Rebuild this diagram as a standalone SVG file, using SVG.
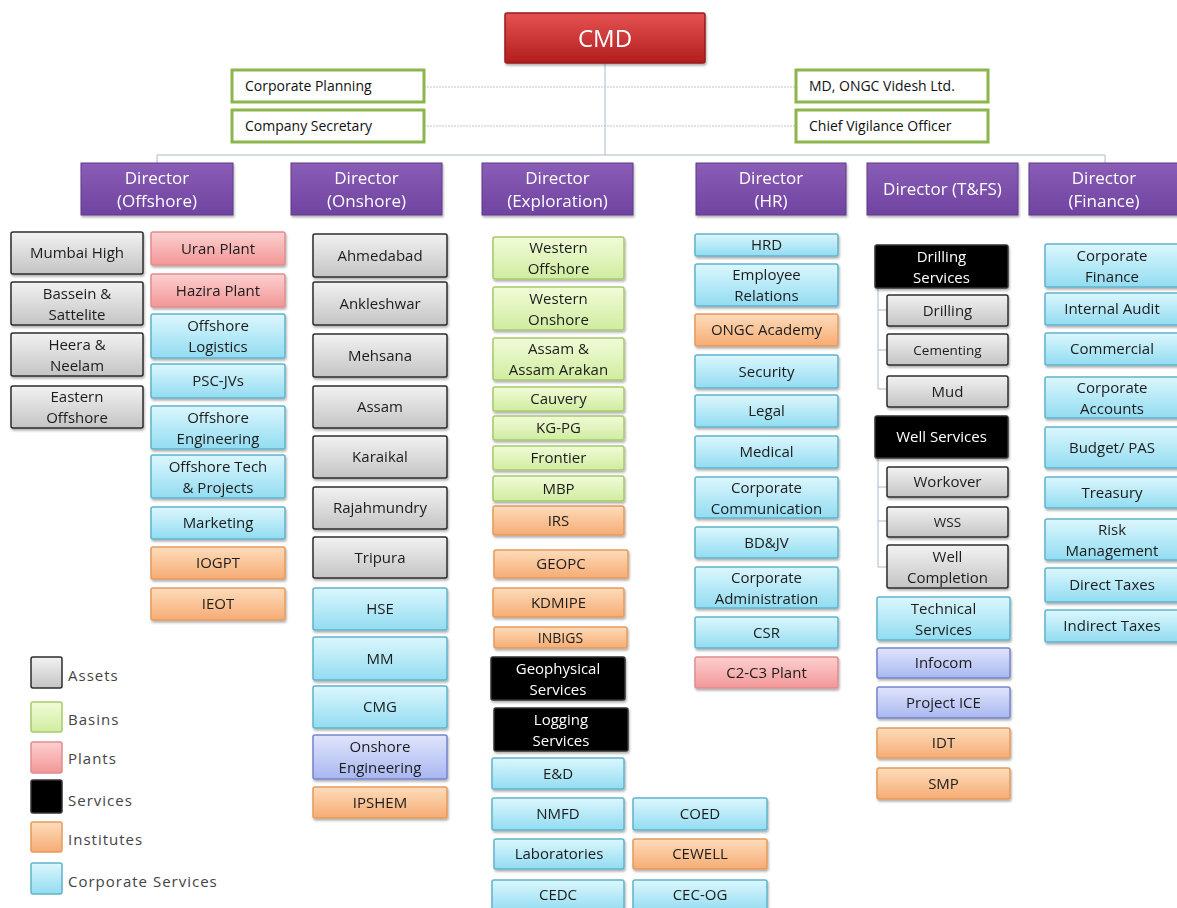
<svg xmlns="http://www.w3.org/2000/svg" width="1177" height="908" viewBox="0 0 1177 908">
<defs>
<linearGradient id="gRed" x1="0" y1="0" x2="0" y2="1"><stop offset="0" stop-color="#e55252"/><stop offset="1" stop-color="#b31d1d"/></linearGradient>
<linearGradient id="gDir" x1="0" y1="0" x2="0" y2="1"><stop offset="0" stop-color="#8a5db6"/><stop offset="1" stop-color="#6f43a0"/></linearGradient>
<linearGradient id="gAsset" x1="0" y1="0" x2="0" y2="1"><stop offset="0" stop-color="#f2f2f2"/><stop offset="1" stop-color="#c4c4c4"/></linearGradient>
<linearGradient id="gPlant" x1="0" y1="0" x2="0" y2="1"><stop offset="0" stop-color="#fdd0d0"/><stop offset="1" stop-color="#f29697"/></linearGradient>
<linearGradient id="gCorp" x1="0" y1="0" x2="0" y2="1"><stop offset="0" stop-color="#dcf7fd"/><stop offset="1" stop-color="#92dcf1"/></linearGradient>
<linearGradient id="gInst" x1="0" y1="0" x2="0" y2="1"><stop offset="0" stop-color="#fddcbb"/><stop offset="1" stop-color="#f6ac74"/></linearGradient>
<linearGradient id="gBasin" x1="0" y1="0" x2="0" y2="1"><stop offset="0" stop-color="#f1fcd8"/><stop offset="1" stop-color="#d0eca0"/></linearGradient>
<linearGradient id="gLav" x1="0" y1="0" x2="0" y2="1"><stop offset="0" stop-color="#e0e5fc"/><stop offset="1" stop-color="#a9b7f0"/></linearGradient>
<filter id="sh" x="-5%" y="-10%" width="115%" height="140%"><feDropShadow dx="1" dy="2" stdDeviation="1" flood-color="#000" flood-opacity="0.3"/></filter>
</defs>
<style>
.node{filter:url(#sh)}
rect{stroke-width:1.5}
.cmd{fill:url(#gRed);stroke:#9a1a1a}
.dir{fill:url(#gDir);stroke:#5e3a8c;stroke-width:1}
.top{fill:#fff;stroke:#8cb54a;stroke-width:3}
.asset{fill:url(#gAsset);stroke:#2c2c2c}
.plant{fill:url(#gPlant);stroke:#e08d8e}
.corp{fill:url(#gCorp);stroke:#5fb4cc}
.inst{fill:url(#gInst);stroke:#e59a5c}
.basin{fill:url(#gBasin);stroke:#a6c96c}
.lav{fill:url(#gLav);stroke:#7484cc}
.svc{fill:#000;stroke:#333}
text{font-family:"Open Sans","Liberation Sans",sans-serif}
.t{font-size:15px;fill:#1c1c1c;text-anchor:middle}
.w{font-size:15px;fill:#fff;text-anchor:middle}
.d{font-size:17px;fill:#fff;text-anchor:middle}
.l{font-size:14px;fill:#111;text-anchor:start}
.lg{font-size:15px;fill:#444;letter-spacing:1px}
.c{fill:none;stroke:#a9bccb;stroke-width:1}
.cd{fill:none;stroke:#b8c6d2;stroke-width:1;stroke-dasharray:2 1}
</style>

<g id="connectors">
<path class="c" d="M605 63V155M157 155H1105M157 155V163M1105 155V163"/>
<path class="cd" d="M424 87H796M424 126H796"/>
<path class="c" d="M878 288V389M878 310H887M878 350H887M878 389H887"/>
<path class="c" d="M878 458V567M878 487H887M878 521H887M878 567H887"/>
</g>

<g id="cmd" class="node"><rect class="cmd" x="505" y="13" width="200" height="50" rx="2"/><text x="605" y="47" style="font-size:24px;fill:#fff;text-anchor:middle">CMD</text></g>
<g id="corporate-planning"><rect class="top" x="232" y="70" width="192" height="32"/><text class="l" x="245" y="91">Corporate Planning</text></g>
<g id="company-secretary"><rect class="top" x="232" y="110" width="192" height="32"/><text class="l" x="245" y="131">Company Secretary</text></g>
<g id="md-ovl"><rect class="top" x="796" y="70" width="192" height="32"/><text class="l" x="809" y="91">MD, ONGC Videsh Ltd.</text></g>
<g id="cvo"><rect class="top" x="796" y="110" width="192" height="32"/><text class="l" x="809" y="131">Chief Vigilance Officer</text></g>

<g id="dir-offshore" class="node"><rect class="dir" x="81" y="163" width="152" height="52"/><text class="d" x="157" y="184">Director<tspan x="157" y="207">(Offshore)</tspan></text></g>
<g id="dir-onshore" class="node"><rect class="dir" x="291" y="163" width="151" height="52"/><text class="d" x="366.5" y="184">Director<tspan x="366.5" y="207">(Onshore)</tspan></text></g>
<g id="dir-exploration" class="node"><rect class="dir" x="482" y="163" width="151" height="52"/><text class="d" x="557.5" y="184">Director<tspan x="557.5" y="207">(Exploration)</tspan></text></g>
<g id="dir-hr" class="node"><rect class="dir" x="696" y="163" width="150" height="52"/><text class="d" x="771" y="184">Director<tspan x="771" y="207">(HR)</tspan></text></g>
<g id="dir-tfs" class="node"><rect class="dir" x="867" y="163" width="151" height="52"/><text class="d" x="942.5" y="195">Director (T&amp;FS)</text></g>
<g id="dir-finance" class="node"><rect class="dir" x="1029" y="163" width="152" height="52"/><text class="d" x="1104" y="184">Director<tspan x="1104" y="207">(Finance)</tspan></text></g>

<!-- Offshore -->
<g id="mumbai-high" class="node"><rect class="asset" x="11" y="232" width="132" height="42" rx="2"/><text class="t" x="77" y="258">Mumbai High</text></g>
<g id="bassein" class="node"><rect class="asset" x="11" y="282" width="132" height="43" rx="2"/><text class="t" x="77" y="298.5">Bassein &amp;<tspan x="77" y="319.5">Sattelite</tspan></text></g>
<g id="heera" class="node"><rect class="asset" x="11" y="333" width="132" height="43" rx="2"/><text class="t" x="77" y="349.5">Heera &amp;<tspan x="77" y="370.5">Neelam</tspan></text></g>
<g id="eastern-offshore" class="node"><rect class="asset" x="11" y="386" width="132" height="42" rx="2"/><text class="t" x="77" y="402">Eastern<tspan x="77" y="423">Offshore</tspan></text></g>
<g id="uran-plant" class="node"><rect class="plant" x="151" y="232" width="134" height="33" rx="2"/><text class="t" x="218" y="253.5">Uran Plant</text></g>
<g id="hazira-plant" class="node"><rect class="plant" x="151" y="274" width="134" height="33" rx="2"/><text class="t" x="218" y="295.5">Hazira Plant</text></g>
<g id="offshore-logistics" class="node"><rect class="corp" x="151" y="314" width="134" height="44" rx="2"/><text class="t" x="218" y="331">Offshore<tspan x="218" y="352">Logistics</tspan></text></g>
<g id="psc-jvs" class="node"><rect class="corp" x="151" y="364" width="134" height="34" rx="2"/><text class="t" x="218" y="386">PSC-JVs</text></g>
<g id="offshore-engineering" class="node"><rect class="corp" x="151" y="406" width="134" height="43" rx="2"/><text class="t" x="218" y="422.5">Offshore<tspan x="218" y="443.5">Engineering</tspan></text></g>
<g id="offshore-tech" class="node"><rect class="corp" x="151" y="455" width="134" height="43" rx="2"/><text class="t" x="218" y="471.5">Offshore Tech<tspan x="218" y="492.5">&amp; Projects</tspan></text></g>
<g id="marketing" class="node"><rect class="corp" x="151" y="507" width="134" height="32" rx="2"/><text class="t" x="218" y="528">Marketing</text></g>
<g id="iogpt" class="node"><rect class="inst" x="151" y="547" width="134" height="32" rx="2"/><text class="t" x="218" y="568">IOGPT</text></g>
<g id="ieot" class="node"><rect class="inst" x="151" y="588" width="134" height="32" rx="2"/><text class="t" x="218" y="609">IEOT</text></g>

<!-- Onshore -->
<g id="ahmedabad" class="node"><rect class="asset" x="313" y="234" width="134" height="43" rx="2"/><text class="t" x="380" y="260.5">Ahmedabad</text></g>
<g id="ankleshwar" class="node"><rect class="asset" x="313" y="282" width="134" height="43" rx="2"/><text class="t" x="380" y="308.5">Ankleshwar</text></g>
<g id="mehsana" class="node"><rect class="asset" x="313" y="334" width="134" height="43" rx="2"/><text class="t" x="380" y="360.5">Mehsana</text></g>
<g id="assam" class="node"><rect class="asset" x="313" y="386" width="134" height="42" rx="2"/><text class="t" x="380" y="412">Assam</text></g>
<g id="karaikal" class="node"><rect class="asset" x="313" y="436" width="134" height="42" rx="2"/><text class="t" x="380" y="462">Karaikal</text></g>
<g id="rajahmundry" class="node"><rect class="asset" x="313" y="487" width="134" height="42" rx="2"/><text class="t" x="380" y="513">Rajahmundry</text></g>
<g id="tripura" class="node"><rect class="asset" x="313" y="537" width="134" height="41" rx="2"/><text class="t" x="380" y="562.5">Tripura</text></g>
<g id="hse" class="node"><rect class="corp" x="313" y="588" width="134" height="42" rx="2"/><text class="t" x="380" y="614">HSE</text></g>
<g id="mm" class="node"><rect class="corp" x="313" y="637" width="134" height="43" rx="2"/><text class="t" x="380" y="663.5">MM</text></g>
<g id="cmg" class="node"><rect class="corp" x="313" y="686" width="134" height="42" rx="2"/><text class="t" x="380" y="712">CMG</text></g>
<g id="onshore-engineering" class="node"><rect class="lav" x="313" y="735" width="134" height="44" rx="2"/><text class="t" x="380" y="752">Onshore<tspan x="380" y="773">Engineering</tspan></text></g>
<g id="ipshem" class="node"><rect class="inst" x="313" y="787" width="134" height="31" rx="2"/><text class="t" x="380" y="807.5">IPSHEM</text></g>

<!-- Exploration -->
<g id="western-offshore" class="node"><rect class="basin" x="493" y="237" width="131" height="42" rx="2"/><text class="t" x="558.5" y="253">Western<tspan x="558.5" y="274">Offshore</tspan></text></g>
<g id="western-onshore" class="node"><rect class="basin" x="493" y="287" width="131" height="43" rx="2"/><text class="t" x="558.5" y="303.5">Western<tspan x="558.5" y="324.5">Onshore</tspan></text></g>
<g id="assam-arakan" class="node"><rect class="basin" x="493" y="338" width="131" height="42" rx="2"/><text class="t" x="558.5" y="354">Assam &amp;<tspan x="558.5" y="375">Assam Arakan</tspan></text></g>
<g id="cauvery" class="node"><rect class="basin" x="493" y="387" width="131" height="24" rx="2"/><text class="t" x="558.5" y="404">Cauvery</text></g>
<g id="kg-pg" class="node"><rect class="basin" x="493" y="416" width="131" height="24" rx="2"/><text class="t" x="558.5" y="433">KG-PG</text></g>
<g id="frontier" class="node"><rect class="basin" x="493" y="446" width="131" height="24" rx="2"/><text class="t" x="558.5" y="463">Frontier</text></g>
<g id="mbp" class="node"><rect class="basin" x="493" y="476" width="131" height="25" rx="2"/><text class="t" x="558.5" y="493.5">MBP</text></g>
<g id="irs" class="node"><rect class="inst" x="493" y="506" width="131" height="29" rx="2"/><text class="t" x="558.5" y="525.5">IRS</text></g>
<g id="geopc" class="node"><rect class="inst" x="494" y="550" width="134" height="28" rx="2"/><text class="t" x="561" y="569">GEOPC</text></g>
<g id="kdmipe" class="node"><rect class="inst" x="493" y="588" width="131" height="29" rx="2"/><text class="t" x="558.5" y="607.5">KDMIPE</text></g>
<g id="inbigs" class="node"><rect class="inst" x="494" y="627" width="133" height="21" rx="2"/><text class="t" x="560.5" y="642.5" style="font-size:14px">INBIGS</text></g>
<g id="geophysical-services" class="node"><rect class="svc" x="491" y="657" width="134" height="43" rx="2"/><text class="w" x="558" y="673.5">Geophysical<tspan x="558" y="694.5">Services</tspan></text></g>
<g id="logging-services" class="node"><rect class="svc" x="494" y="708" width="134" height="43" rx="2"/><text class="w" x="561" y="724.5">Logging<tspan x="561" y="745.5">Services</tspan></text></g>
<g id="e-and-d" class="node"><rect class="corp" x="492" y="758" width="132" height="31" rx="2"/><text class="t" x="558" y="778.5">E&amp;D</text></g>
<g id="nmfd" class="node"><rect class="corp" x="492" y="798" width="132" height="32" rx="2"/><text class="t" x="558" y="819">NMFD</text></g>
<g id="coed" class="node"><rect class="corp" x="633" y="798" width="134" height="32" rx="2"/><text class="t" x="700" y="819">COED</text></g>
<g id="laboratories" class="node"><rect class="corp" x="494" y="839" width="130" height="30" rx="2"/><text class="t" x="559" y="859">Laboratories</text></g>
<g id="cewell" class="node"><rect class="inst" x="633" y="839" width="134" height="30" rx="2"/><text class="t" x="700" y="859">CEWELL</text></g>
<g id="cedc" class="node"><rect class="corp" x="492" y="880" width="132" height="32" rx="2"/><text class="t" x="558" y="900">CEDC</text></g>
<g id="cec-og" class="node"><rect class="corp" x="633" y="880" width="134" height="32" rx="2"/><text class="t" x="700" y="900">CEC-OG</text></g>

<!-- HR -->
<g id="hrd" class="node"><rect class="corp" x="695" y="234" width="143" height="22" rx="2"/><text class="t" x="766.5" y="250">HRD</text></g>
<g id="employee-relations" class="node"><rect class="corp" x="695" y="264" width="143" height="42" rx="2"/><text class="t" x="766.5" y="280">Employee<tspan x="766.5" y="301">Relations</tspan></text></g>
<g id="ongc-academy" class="node"><rect class="inst" x="695" y="314" width="143" height="32" rx="2"/><text class="t" x="766.5" y="335">ONGC Academy</text></g>
<g id="security" class="node"><rect class="corp" x="695" y="355" width="143" height="33" rx="2"/><text class="t" x="766.5" y="376.5">Security</text></g>
<g id="legal" class="node"><rect class="corp" x="695" y="395" width="143" height="32" rx="2"/><text class="t" x="766.5" y="416">Legal</text></g>
<g id="medical" class="node"><rect class="corp" x="695" y="436" width="143" height="32" rx="2"/><text class="t" x="766.5" y="457">Medical</text></g>
<g id="corporate-communication" class="node"><rect class="corp" x="695" y="477" width="143" height="41" rx="2"/><text class="t" x="766.5" y="492.5">Corporate<tspan x="766.5" y="513.5">Communication</tspan></text></g>
<g id="bd-jv" class="node"><rect class="corp" x="695" y="527" width="143" height="31" rx="2"/><text class="t" x="766.5" y="547.5">BD&amp;JV</text></g>
<g id="corporate-administration" class="node"><rect class="corp" x="695" y="567" width="143" height="41" rx="2"/><text class="t" x="766.5" y="582.5">Corporate<tspan x="766.5" y="603.5">Administration</tspan></text></g>
<g id="csr" class="node"><rect class="corp" x="695" y="617" width="143" height="31" rx="2"/><text class="t" x="766.5" y="637.5">CSR</text></g>
<g id="c2-c3-plant" class="node"><rect class="plant" x="695" y="657" width="143" height="31" rx="2"/><text class="t" x="766.5" y="677.5">C2-C3 Plant</text></g>

<!-- T&FS -->
<g id="drilling-services" class="node"><rect class="svc" x="875" y="245" width="133" height="43" rx="2"/><text class="w" x="941.5" y="261.5">Drilling<tspan x="941.5" y="282.5">Services</tspan></text></g>
<g id="drilling" class="node"><rect class="asset" x="887" y="295" width="121" height="31" rx="2"/><text class="t" x="947.5" y="315.5">Drilling</text></g>
<g id="cementing" class="node"><rect class="asset" x="887" y="334" width="121" height="31" rx="2"/><text class="t" x="947.5" y="354.5" style="font-size:13.5px">Cementing</text></g>
<g id="mud" class="node"><rect class="asset" x="887" y="376" width="121" height="31" rx="2"/><text class="t" x="947.5" y="396.5">Mud</text></g>
<g id="well-services" class="node"><rect class="svc" x="875" y="416" width="133" height="42" rx="2"/><text class="w" x="941.5" y="442">Well Services</text></g>
<g id="workover" class="node"><rect class="asset" x="887" y="467" width="121" height="30" rx="2"/><text class="t" x="947.5" y="487">Workover</text></g>
<g id="wss" class="node"><rect class="asset" x="887" y="507" width="121" height="30" rx="2"/><text class="t" x="947.5" y="527" style="font-size:13.5px">WSS</text></g>
<g id="well-completion" class="node"><rect class="asset" x="887" y="545" width="121" height="43" rx="2"/><text class="t" x="947.5" y="561.5">Well<tspan x="947.5" y="582.5">Completion</tspan></text></g>
<g id="technical-services" class="node"><rect class="corp" x="877" y="597" width="133" height="43" rx="2"/><text class="t" x="943.5" y="613.5">Technical<tspan x="943.5" y="634.5">Services</tspan></text></g>
<g id="infocom" class="node"><rect class="lav" x="877" y="648" width="133" height="30" rx="2"/><text class="t" x="943.5" y="668">Infocom</text></g>
<g id="project-ice" class="node"><rect class="lav" x="877" y="687" width="133" height="31" rx="2"/><text class="t" x="943.5" y="707.5">Project ICE</text></g>
<g id="idt" class="node"><rect class="inst" x="877" y="728" width="133" height="30" rx="2"/><text class="t" x="943.5" y="748">IDT</text></g>
<g id="smp" class="node"><rect class="inst" x="877" y="768" width="133" height="31" rx="2"/><text class="t" x="943.5" y="788.5">SMP</text></g>

<!-- Finance -->
<g id="corporate-finance" class="node"><rect class="corp" x="1045" y="244" width="140" height="43" rx="2"/><text class="t" x="1112" y="260.5">Corporate<tspan x="1112" y="281.5">Finance</tspan></text></g>
<g id="internal-audit" class="node"><rect class="corp" x="1045" y="293" width="140" height="32" rx="2"/><text class="t" x="1112" y="314">Internal Audit</text></g>
<g id="commercial" class="node"><rect class="corp" x="1045" y="333" width="140" height="32" rx="2"/><text class="t" x="1112" y="354">Commercial</text></g>
<g id="corporate-accounts" class="node"><rect class="corp" x="1045" y="377" width="140" height="41" rx="2"/><text class="t" x="1112" y="392.5">Corporate<tspan x="1112" y="413.5">Accounts</tspan></text></g>
<g id="budget-pas" class="node"><rect class="corp" x="1045" y="427" width="140" height="41" rx="2"/><text class="t" x="1112" y="452.5">Budget/ PAS</text></g>
<g id="treasury" class="node"><rect class="corp" x="1045" y="477" width="140" height="31" rx="2"/><text class="t" x="1112" y="497.5">Treasury</text></g>
<g id="risk-management" class="node"><rect class="corp" x="1045" y="519" width="140" height="41" rx="2"/><text class="t" x="1112" y="534.5">Risk<tspan x="1112" y="555.5">Management</tspan></text></g>
<g id="direct-taxes" class="node"><rect class="corp" x="1045" y="568" width="140" height="34" rx="2"/><text class="t" x="1112" y="590">Direct Taxes</text></g>
<g id="indirect-taxes" class="node"><rect class="corp" x="1045" y="610" width="140" height="32" rx="2"/><text class="t" x="1112" y="631">Indirect Taxes</text></g>

<!-- Legend -->
<g id="legend">
<g id="legend-assets"><rect class="asset" x="31" y="657" width="31" height="31" rx="2"/><text class="lg" x="68" y="681">Assets</text></g>
<g id="legend-basins"><rect class="basin" x="31" y="702" width="31" height="30" rx="2"/><text class="lg" x="68" y="725">Basins</text></g>
<g id="legend-plants"><rect class="plant" x="31" y="742" width="31" height="31" rx="2"/><text class="lg" x="68" y="764">Plants</text></g>
<g id="legend-services"><rect class="svc" x="31" y="780" width="31" height="33" rx="2"/><text class="lg" x="68" y="806">Services</text></g>
<g id="legend-institutes"><rect class="inst" x="31" y="822" width="31" height="30" rx="2"/><text class="lg" x="68" y="845">Institutes</text></g>
<g id="legend-corporate"><rect class="corp" x="31" y="863" width="31" height="31" rx="2"/><text class="lg" x="68" y="887">Corporate Services</text></g>
</g>
</svg>
